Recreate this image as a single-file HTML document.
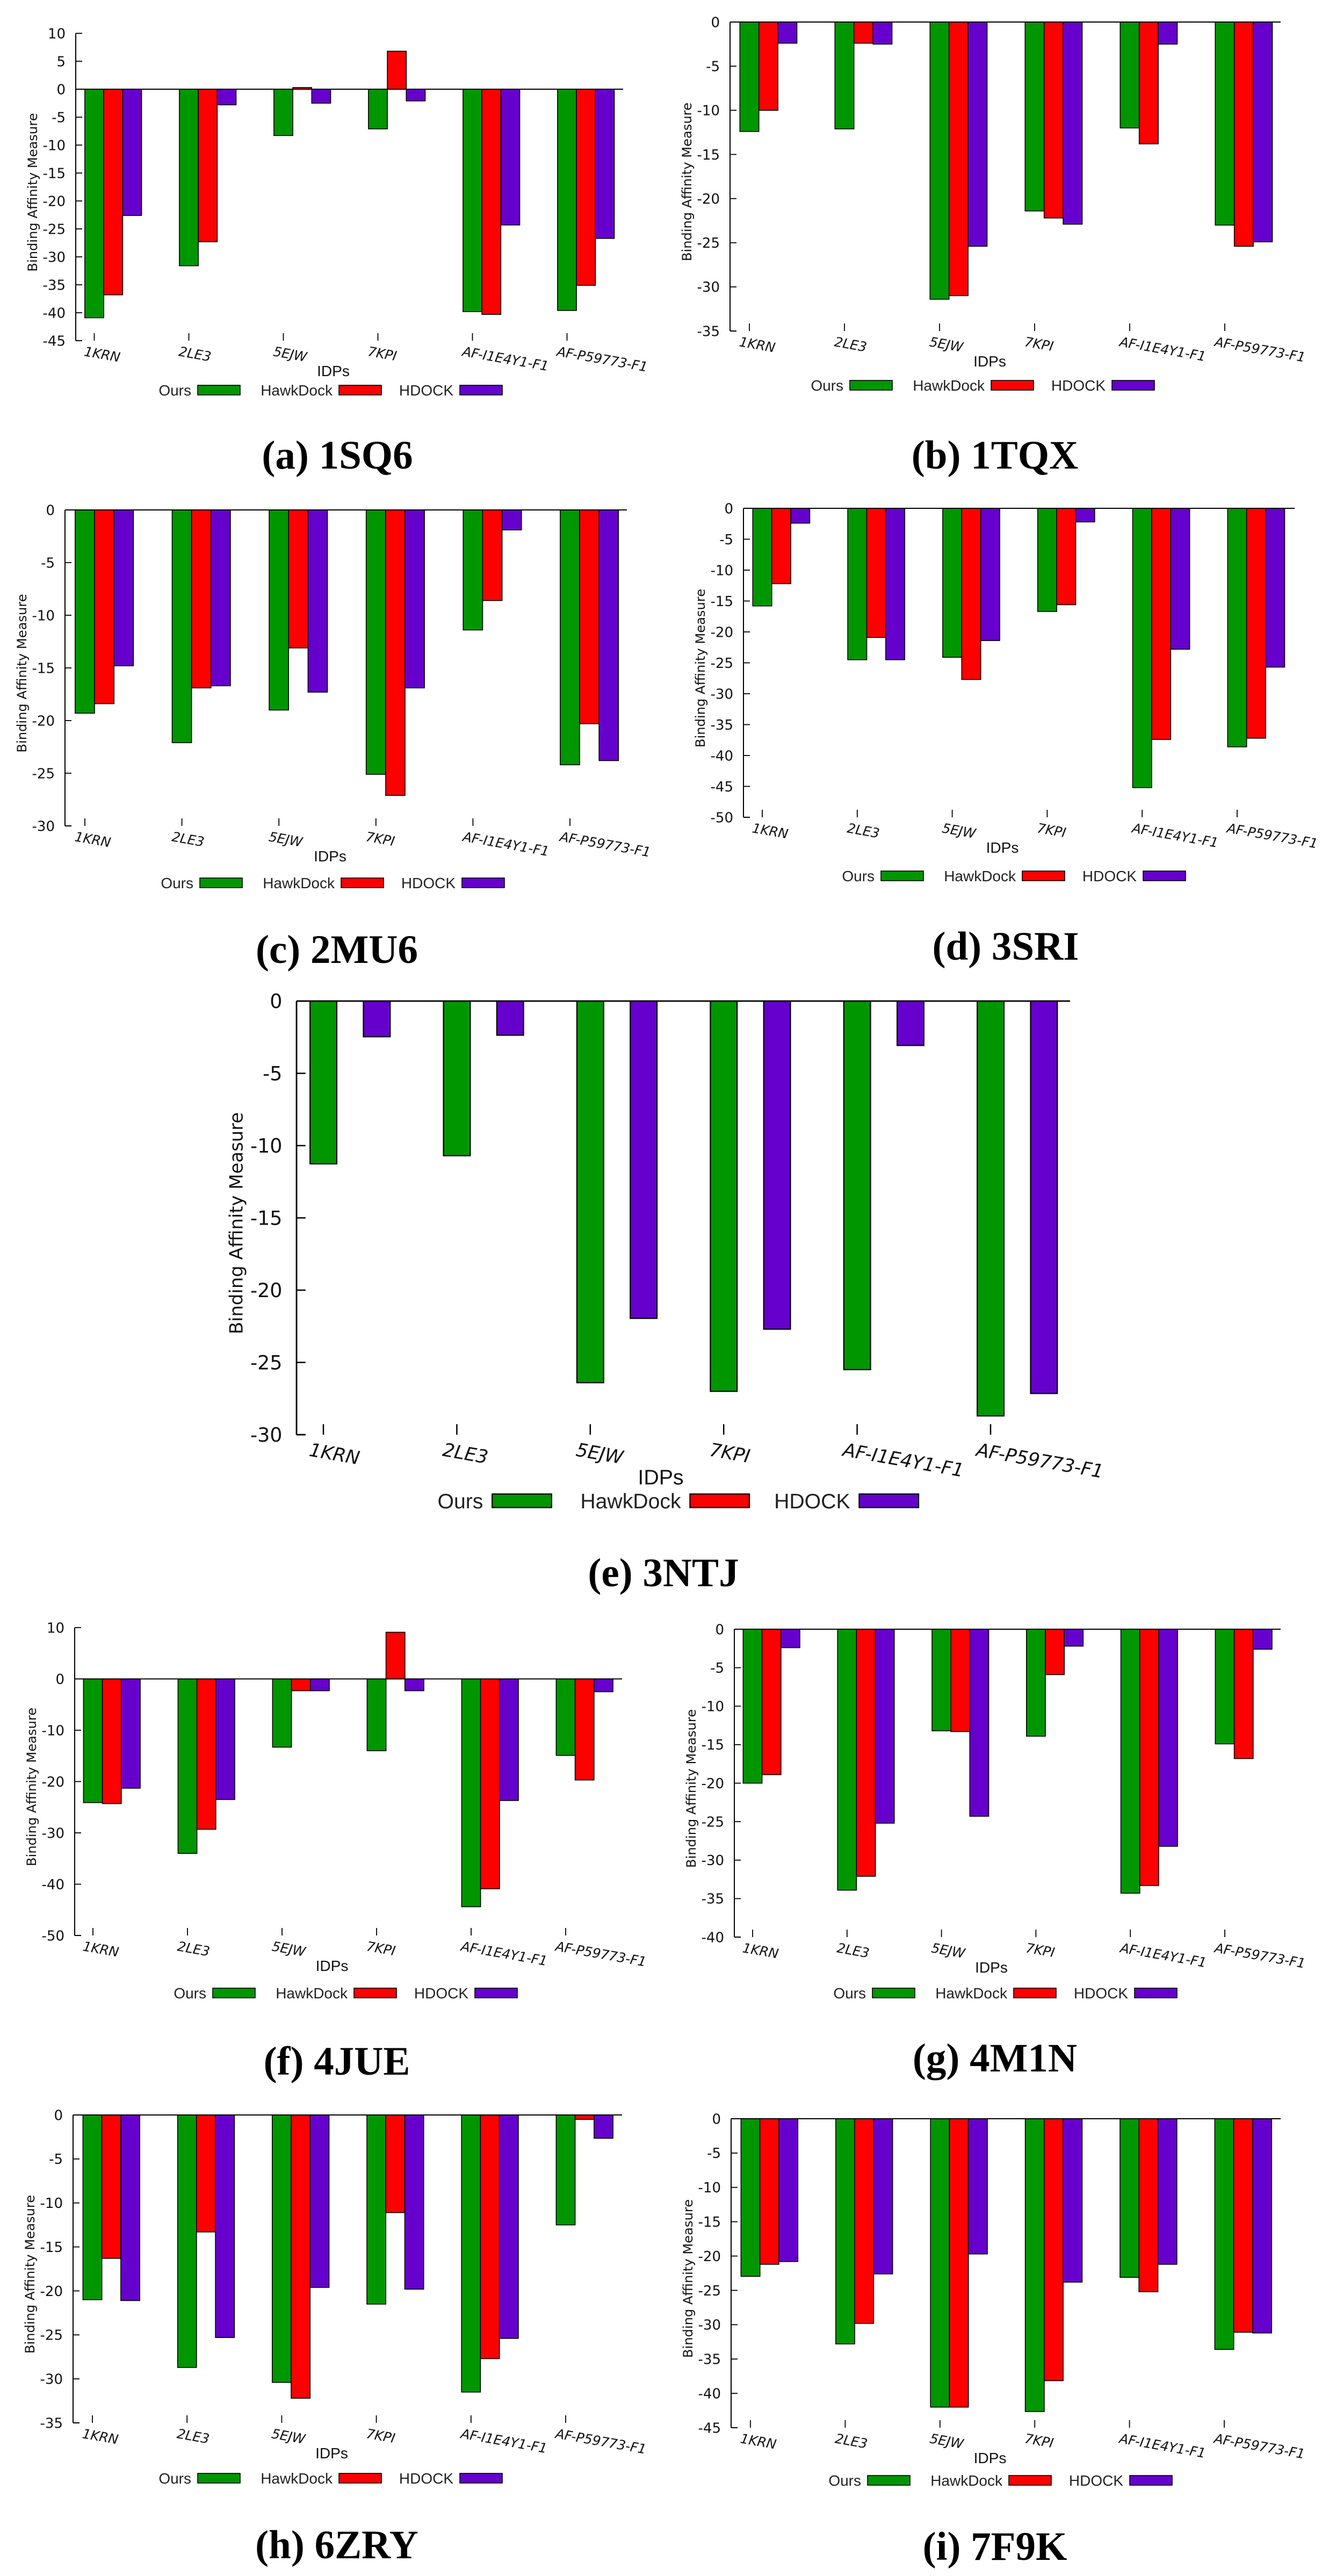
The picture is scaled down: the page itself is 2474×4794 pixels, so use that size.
<!DOCTYPE html>
<html><head><meta charset="utf-8"><title>Binding affinity panels</title>
<style>
html,body{margin:0;padding:0;background:#fff;}
svg{display:block;}
</style></head>
<body>
<svg id="fig" xmlns="http://www.w3.org/2000/svg" width="2474" height="4794" viewBox="0 0 2474 4794">
<rect x="0" y="0" width="2474" height="4794" fill="#fff"/>
</svg>
<script>
// categories shared by all panels
const cats = ["1KRN","2LE3","5EJW","7KPI","AF-I1E4Y1-F1","AF-P59773-F1"];
const seriesNames = ["Ours","HawkDock","HDOCK"];
const seriesColors = ["#009600","#ff0000","#6600cc"];

// (a) 1SQ6
const ours_a  = [-40.9,-31.6,-8.3,-7.1,-39.8,-39.6];
const hawk_a  = [-36.8,-27.3,0.3,6.8,-40.3,-35.1];
const hdock_a = [-22.6,-2.8,-2.5,-2.1,-24.3,-26.7];
// (b) 1TQX
const ours_b  = [-12.4,-12.1,-31.4,-21.4,-12.0,-23.0];
const hawk_b  = [-10.0,-2.4,-31.0,-22.2,-13.8,-25.4];
const hdock_b = [-2.4,-2.5,-25.4,-22.9,-2.5,-24.9];
// (c) 2MU6
const ours_c  = [-19.3,-22.1,-19.0,-25.1,-11.4,-24.2];
const hawk_c  = [-18.4,-16.9,-13.1,-27.1,-8.6,-20.3];
const hdock_c = [-14.8,-16.7,-17.3,-16.9,-1.9,-23.8];
// (d) 3SRI
const ours_d  = [-15.8,-24.5,-24.1,-16.7,-45.2,-38.6];
const hawk_d  = [-12.2,-20.9,-27.7,-15.6,-37.4,-37.2];
const hdock_d = [-2.4,-24.5,-21.4,-2.2,-22.8,-25.7];
// (e) 3NTJ
const ours_e  = [-11.26,-10.7,-26.4,-27.0,-25.5,-28.7];
const hawk_e  = [0,0,0,0,0,0];
const hdock_e = [-2.47,-2.36,-21.95,-22.7,-3.07,-27.15];
// (f) 4JUE
const ours_f  = [-24.1,-34.0,-13.3,-14.0,-44.4,-14.9];
const hawk_f  = [-24.3,-29.3,-2.3,9.1,-40.9,-19.7];
const hdock_f = [-21.3,-23.5,-2.3,-2.3,-23.7,-2.5];
// (g) 4M1N
const ours_g  = [-20.0,-33.9,-13.2,-13.9,-34.3,-14.9];
const hawk_g  = [-18.9,-32.1,-13.3,-5.9,-33.3,-16.8];
const hdock_g = [-2.4,-25.2,-24.3,-2.2,-28.2,-2.6];
// (h) 6ZRY
const ours_h  = [-21.0,-28.7,-30.4,-21.5,-31.5,-12.5];
const hawk_h  = [-16.3,-13.3,-32.2,-11.1,-27.7,-0.5];
const hdock_h = [-21.1,-25.3,-19.6,-19.8,-25.4,-2.65];
// (i) 7F9K
const ours_i  = [-22.96,-32.8,-42.0,-42.65,-23.1,-33.6];
const hawk_i  = [-21.2,-29.8,-42.0,-38.15,-25.2,-31.1];
const hdock_i = [-20.8,-22.6,-19.7,-23.8,-21.2,-31.2];

const NS = "http://www.w3.org/2000/svg";
const svg = document.getElementById('fig');
function mk(tag, attrs, parent){
  const e = document.createElementNS(NS, tag);
  for (const k in attrs) e.setAttribute(k, attrs[k]);
  (parent||svg).appendChild(e);
  return e;
}

const panels = [
 {id:"a",cap:"(a) 1SQ6",L:141,T:62,B:634,R:1160,ymax:10,ymin:-45,step:5,t0:175.5,sp:176,legY:726,legX:290,cx:628,cy:845,s:1,data:[ours_a,hawk_a,hdock_a]},
 {id:"b",cap:"(b) 1TQX",L:1359,T:41,B:616,R:2384,ymax:0,ymin:-35,step:5,t0:1395,sp:177,legY:717,legX:1504,cx:1852,cy:845,s:1,data:[ours_b,hawk_b,hdock_b]},
 {id:"c",cap:"(c) 2MU6",L:121,T:949,B:1537,R:1167,ymax:0,ymin:-30,step:5,t0:158,sp:180.6,legY:1643,legX:294,cx:627,cy:1765,s:1,data:[ours_c,hawk_c,hdock_c]},
 {id:"d",cap:"(d) 3SRI",L:1384,T:946,B:1521,R:2410,ymax:0,ymin:-50,step:5,t0:1419,sp:176.8,legY:1630,legX:1562,cx:1872,cy:1759,s:1,data:[ours_d,hawk_d,hdock_d]},
 {id:"e",cap:"(e) 3NTJ",L:552,T:1863,B:2670,R:1992,ymax:0,ymin:-30,step:5,t0:602,sp:248.4,legY:2793,legX:807,cx:1235,cy:2925,s:1.4,data:[ours_e,hawk_e,hdock_e]},
 {id:"f",cap:"(f) 4JUE",L:139,T:3029,B:3602,R:1158,ymax:10,ymin:-50,step:10,t0:173,sp:176,legY:3709,legX:318,cx:627,cy:3834,s:1,data:[ours_f,hawk_f,hdock_f]},
 {id:"g",cap:"(g) 4M1N",L:1367,T:3032,B:3605,R:2384,ymax:0,ymin:-40,step:5,t0:1401,sp:175.8,legY:3709,legX:1546,cx:1852,cy:3828,s:1,data:[ours_g,hawk_g,hdock_g]},
 {id:"h",cap:"(h) 6ZRY",L:136,T:3936,B:4509,R:1158,ymax:0,ymin:-35,step:5,t0:172,sp:176.2,legY:4612,legX:290,cx:627,cy:4734,s:1,data:[ours_h,hawk_h,hdock_h]},
 {id:"i",cap:"(i) 7F9K",L:1361,T:3943,B:4518,R:2384,ymax:0,ymin:-45,step:5,t0:1397,sp:176.4,legY:4616,legX:1537,cx:1852,cy:4737,s:1,data:[ours_i,hawk_i,hdock_i]}
];

panels.forEach(p => {
  const g = mk('g', {});
  
  
  const s = p.s;
  const fs = 26*s;
  const yScale = v => p.T + (p.ymax - v) / (p.ymax - p.ymin) * (p.B - p.T);
  const xScale = i => p.t0 + i*p.sp;
  const bw = p.sp*0.2;
  const y0 = yScale(0);

  // bars
  p.data.forEach((arr, si) => {
    arr.forEach((v, ci) => {
      if (v === 0) return;
      const xc = xScale(ci) + si*bw;
      const yv = yScale(v);
      const r = mk('rect', {x:(xc-bw/2).toFixed(1), y:Math.min(y0,yv).toFixed(1), width:bw.toFixed(1), height:Math.abs(yv-y0).toFixed(1), fill:seriesColors[si], stroke:'#000', 'stroke-width':1.6*s}, g);
      
      
    });
  });

  // axes
  const ya = mk('line', {x1:p.L, y1:p.T, x2:p.L, y2:p.B, stroke:'#000', 'stroke-width':2*s}, g);
  
  
  const xb = mk('line', {x1:p.L, y1:p.B, x2:p.L+12*s, y2:p.B, stroke:'#000', 'stroke-width':2*s}, g);
  
  
  const zl = mk('line', {x1:p.L, y1:y0, x2:p.R, y2:y0, stroke:'#000', 'stroke-width':2*s}, g);
  
  

  // y ticks
  for (let v = p.ymax; v >= p.ymin - 1e-9; v -= p.step) {
    const y = yScale(v);
    const tk = mk('line', {x1:p.L, y1:y, x2:p.L+12*s, y2:y, stroke:'#000', 'stroke-width':1.8*s}, g);
    
    
    const t = mk('text', {x:p.L-19*s, y:y+fs*0.36, 'text-anchor':'end', 'font-family':'"DejaVu Sans","Liberation Sans",sans-serif', 'font-size':fs, fill:'#111'}, g);
    t.textContent = String(Math.round(v));
    
    
  }

  // x ticks and labels
  cats.forEach((c, ci) => {
    const x = xScale(ci);
    const tk = mk('line', {x1:x, y1:p.B, x2:x, y2:p.B-14*s, stroke:'#000', 'stroke-width':1.8*s}, g);
    
    
    const lx = x - 20*s, ly = p.B + 28*s;
    const t = mk('text', {x:lx, y:ly, transform:`rotate(10 ${lx} ${ly})`, 'font-family':'"DejaVu Sans","Liberation Sans",sans-serif', 'font-size':fs*0.95, 'font-style':'italic', fill:'#111'}, g);
    t.textContent = c;
    
    
  });

  // y-axis title
  const ytx = p.L - 80*s, yty = (p.T + p.B)/2 + 10;
  const yt = mk('text', {x:ytx, y:yty, transform:`rotate(-90 ${ytx} ${yty})`, 'text-anchor':'middle', 'dominant-baseline':'central', 'font-family':'"DejaVu Sans","Liberation Sans",sans-serif', 'font-size':fs*0.93, fill:'#111'}, g);
  yt.textContent = 'Binding Affinity Measure';
  
  

  // x-axis title
  const xt = mk('text', {x:(xScale(0)+xScale(5))/2 + 5*s, y:p.B + 66*s, 'text-anchor':'middle', 'font-family':'"Liberation Sans",sans-serif', 'font-size':fs*1.08, fill:'#111'}, g);
  xt.textContent = 'IDPs';
  
  

  // legend
  const boxOff = [78, 341, 566];
  seriesNames.forEach((n, si) => {
    const bx = p.legX + boxOff[si]*s;
    const lt = mk('text', {x:bx - 12*s, y:p.legY + 10*s, 'text-anchor':'end', 'font-family':'"Liberation Sans",sans-serif', 'font-size':28*s, fill:'#222'}, g);
    lt.textContent = n;
    
    
    const lb = mk('rect', {x:bx, y:p.legY - 9*s, width:79*s, height:18*s, fill:seriesColors[si], stroke:'#000', 'stroke-width':1.6*s}, g);
    
    
  });

  // caption
  const cp = mk('text', {x:p.cx, y:p.cy + 27, 'text-anchor':'middle', 'font-family':'"Liberation Serif",serif', 'font-weight':'bold', 'font-size':75, fill:'#000'});
  cp.textContent = p.cap;
  
  
});
</script>
</body></html>
